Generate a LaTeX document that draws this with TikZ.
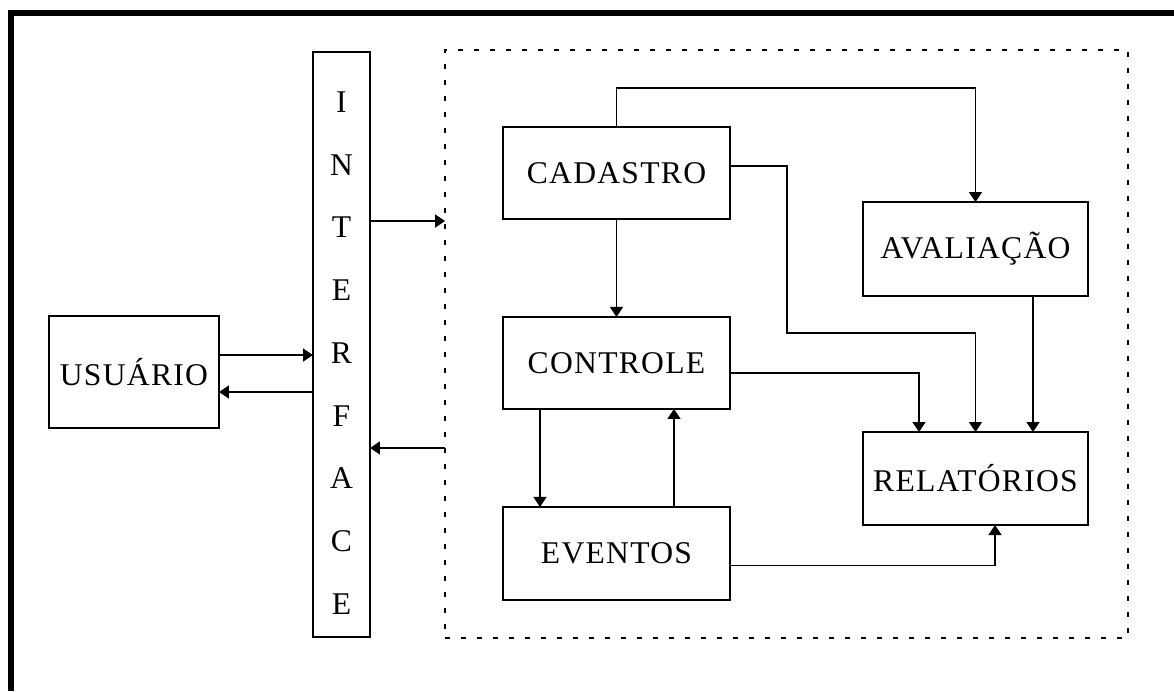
\documentclass[tikz,border=0pt]{standalone}
\usepackage{fontspec}
\setmainfont{Liberation Serif}
\usetikzlibrary{arrows.meta, positioning}

\begin{document}
\begin{tikzpicture}[x=0.02cm, y=-0.02cm, >={Triangle[length=2mm, width=2.6mm]},
    caixa/.style={draw, line width=1pt, outer sep=0pt, inner sep=0pt, font=\fontsize{18}{22}\selectfont\addfontfeatures{LetterSpace=4}},
    seta/.style={->, line width=0.8pt}]
      \useasboundingbox (0,0) rectangle (1174,691);
      % Moldura
      \draw[line width=1.2mm] (11,691) -- (11,13) -- (1174,13);

      % Nodes
      \node[caixa, minimum width=3.4cm, minimum height=2.24cm] (usuario) at (134,372) {USUÁRIO};
      \node[caixa, minimum width=1.14cm, minimum height=11.7cm] (interface) at (341.5,344.5) {};
      \node[align=center, inner sep=0pt, font=\fontsize{18}{35.7}\selectfont] (letras) at ([yshift=-1.7mm]interface.center)
        {I\\N\\T\\E\\R\\F\\A\\C\\E};
      \node[draw, line width=1pt, dash pattern=on 1mm off 2.2mm, outer sep=0pt, minimum width=13.66cm, minimum height=11.76cm] (sistema) at (786.5,344) {};

      \node[caixa, minimum width=4.54cm, minimum height=1.84cm] (cadastro) at (616.5,173) {CADASTRO};
      \node[caixa, minimum width=4.54cm, minimum height=1.84cm, below=1.96cm of cadastro] (controle) {CONTROLE};
      \node[caixa, minimum width=4.54cm, minimum height=1.86cm, below=1.96cm of controle] (eventos) {EVENTOS};
      \node[caixa, minimum width=4.5cm, minimum height=1.88cm] (avaliacao) at (975.5,249) {AVALIAÇÃO};
      \node[caixa, minimum width=4.5cm, minimum height=1.86cm] (relatorios) at (975.5,478.5) {RELATÓRIOS};

      % Arrows
      \draw[seta] ([yshift=3.4mm]usuario.east) -- ([yshift=3.4mm]usuario.east -| interface.west);
      \draw[seta] ([yshift=-4mm]usuario.east -| interface.west) -- ([yshift=-4mm]usuario.east);
      \draw[seta] ([yshift=24.7mm]interface.east) -- ([yshift=24.7mm]interface.east -| sistema.west);
      \draw[seta] ([yshift=-20.7mm]interface.east -| sistema.west) -- ([yshift=-20.7mm]interface.east);

      \draw[seta] (cadastro.north) -- ++(0,7.8mm) -| (avaliacao.north);
      \draw[seta] ([yshift=1.4mm]cadastro.east) -- ++(11.4mm,0) |- ([yshift=19.8mm]relatorios.north) -- (relatorios.north);
      \draw[seta] (cadastro) -- (controle);
      \draw[seta] ([yshift=-2mm]controle.east) -| ([xshift=-11.3mm]relatorios.north);
      \draw[seta] ([xshift=11.5mm]avaliacao.south) -- ([xshift=11.5mm]relatorios.north);
      \draw[seta] ([xshift=-15.3mm]controle.south) -- ([xshift=-15.3mm]eventos.north);
      \draw[seta] ([xshift=11.5mm]eventos.north) -- ([xshift=11.5mm]controle.south);
      \draw[seta] ([yshift=-2.4mm]eventos.east) -| ([xshift=3.9mm]relatorios.south);
    \end{tikzpicture}
\end{document}
